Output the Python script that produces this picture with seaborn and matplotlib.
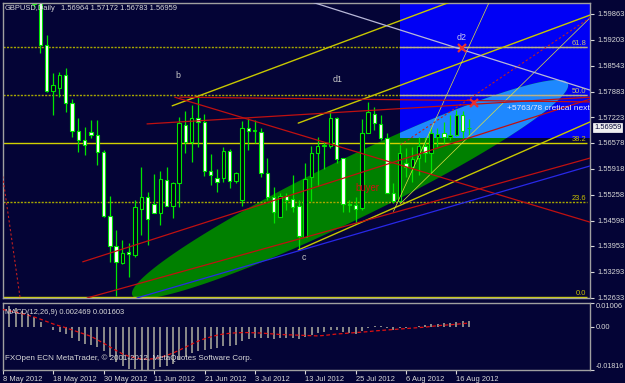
import numpy as np
import pandas as pd
import matplotlib
matplotlib.use("Agg")
import matplotlib.pyplot as plt
import seaborn as sns
from matplotlib.patches import Rectangle, Polygon

# ---------------- data ----------------
symbol = "GBPUSD,Daily"
dates = pd.bdate_range("2012-05-08", "2012-08-20")      # 75 daily bars
first_bar = 5                                           # earlier bars lie above the visible range

opens = [1.6045, 1.6028, 1.5907, 1.5790, 1.5797, 1.5830, 1.5759, 1.5688, 1.5665, 1.5685,
         1.5678, 1.5634, 1.5471, 1.5395, 1.5352, 1.5379, 1.5372, 1.5489, 1.5520, 1.5502,
         1.5479, 1.5563, 1.5497, 1.5556, 1.5703, 1.5660, 1.5721, 1.5711, 1.5586, 1.5568,
         1.5568, 1.5637, 1.5560, 1.5512, 1.5696, 1.5688, 1.5685, 1.5581, 1.5520, 1.5469,
         1.5522, 1.5515, 1.5497, 1.5418, 1.5571, 1.5632, 1.5650, 1.5650, 1.5721, 1.5619,
         1.5502, 1.5500, 1.5492, 1.5683, 1.5731, 1.5706, 1.5670, 1.5530, 1.5510, 1.5606,
         1.5596, 1.5619, 1.5650, 1.5632, 1.5673, 1.5683, 1.5673, 1.5678, 1.5729, 1.56964]
highs = [1.6062, 1.6040, 1.5932, 1.5836, 1.5838, 1.5848, 1.5769, 1.5721, 1.5698, 1.5716,
         1.5716, 1.5640, 1.5523, 1.5436, 1.5410, 1.5403, 1.5512, 1.5596, 1.5533, 1.5578,
         1.5586, 1.5596, 1.5558, 1.5724, 1.5739, 1.5754, 1.5774, 1.5731, 1.5629, 1.5591,
         1.5647, 1.5642, 1.5584, 1.5713, 1.5721, 1.5716, 1.5696, 1.5619, 1.5546, 1.5530,
         1.5530, 1.5576, 1.5512, 1.5606, 1.5650, 1.5673, 1.5660, 1.5736, 1.5724, 1.5619,
         1.5512, 1.5520, 1.5719, 1.5762, 1.5749, 1.5729, 1.5683, 1.5556, 1.5657, 1.5645,
         1.5647, 1.5673, 1.5673, 1.5698, 1.5696, 1.5711, 1.5729, 1.5741, 1.5739, 1.57172]
lows = [1.6004, 1.5886, 1.5788, 1.5729, 1.5774, 1.5736, 1.5673, 1.5634, 1.5627, 1.5670,
        1.5601, 1.5469, 1.5355, 1.5268, 1.5350, 1.5316, 1.5367, 1.5423, 1.5398, 1.5479,
        1.5449, 1.5497, 1.5467, 1.5494, 1.5632, 1.5609, 1.5647, 1.5573, 1.5551, 1.5533,
        1.5558, 1.5543, 1.5556, 1.5497, 1.5640, 1.5657, 1.5571, 1.5512, 1.5454, 1.5469,
        1.5487, 1.5482, 1.5388, 1.5418, 1.5510, 1.5548, 1.5592, 1.5645, 1.5606, 1.5482,
        1.5482, 1.5454, 1.5487, 1.5683, 1.5691, 1.5665, 1.5530, 1.5505, 1.5510, 1.5571,
        1.5558, 1.5576, 1.5609, 1.5581, 1.5647, 1.5657, 1.5665, 1.5675, 1.5670, 1.56783]
closes = [1.6011, 1.5907, 1.5790, 1.5805, 1.5830, 1.5759, 1.5688, 1.5665, 1.5652, 1.5678,
          1.5634, 1.5471, 1.5395, 1.5355, 1.5378, 1.5376, 1.5494, 1.5520, 1.5464, 1.5479,
          1.5566, 1.5497, 1.5556, 1.5708, 1.5660, 1.5721, 1.5711, 1.5586, 1.5576, 1.5558,
          1.5637, 1.5560, 1.5581, 1.5696, 1.5688, 1.5691, 1.5581, 1.5520, 1.5482, 1.5522,
          1.5512, 1.5494, 1.5420, 1.5566, 1.5632, 1.5650, 1.5653, 1.5721, 1.5617, 1.5502,
          1.5499, 1.5489, 1.5683, 1.5736, 1.5708, 1.5670, 1.5530, 1.5510, 1.5632, 1.5596,
          1.5617, 1.5650, 1.5632, 1.5683, 1.5681, 1.5673, 1.5678, 1.5729, 1.5688, 1.56959]

macd_main = [0.0100, 0.0088, 0.0078, 0.0068, 0.0055, 0.0042, 0.0020, 0.0000, -0.0012, -0.0020,
             -0.0032, -0.0048, -0.0060, -0.0070, -0.0076, -0.0085, -0.0103, -0.0125, -0.0150, -0.0165,
             -0.0176, -0.0178, -0.0180, -0.0182, -0.0178, -0.0168, -0.0163, -0.0155, -0.0138, -0.0128,
             -0.0112, -0.0102, -0.0098, -0.0094, -0.0090, -0.0082, -0.0080, -0.0075, -0.0060, -0.0050,
             -0.0045, -0.0045, -0.0047, -0.0050, -0.0048, -0.0046, -0.0045, -0.0050, -0.0042, -0.0033,
             -0.0026, -0.0021, -0.0012, -0.0014, -0.0022, -0.0027, -0.0030, -0.0017, -0.0004, 0.0003,
             0.0005, -0.0006, -0.0012, -0.0005, -0.0003, -0.0001, 0.0004, 0.0006, 0.0011, 0.0013,
             0.0015, 0.0017, 0.0022, 0.0024, 0.002469]
macd_signal = [0.0073, 0.0068, 0.0062, 0.0056, 0.0049, 0.0041, 0.0032, 0.0022, 0.0012, 0.0004,
               -0.0004, -0.0013, -0.0022, -0.0031, -0.0040, -0.0055, -0.0069, -0.0085, -0.0100, -0.0114,
               -0.0124, -0.0131, -0.0135, -0.0136, -0.0134, -0.0128, -0.0120, -0.0110, -0.0098, -0.0085,
               -0.0072, -0.0060, -0.0050, -0.0042, -0.0035, -0.0030, -0.0027, -0.0025, -0.0024, -0.0024,
               -0.0025, -0.0026, -0.0028, -0.0030, -0.0032, -0.0033, -0.0034, -0.0035, -0.0036, -0.0037,
               -0.0038, -0.0036, -0.0033, -0.0030, -0.0028, -0.0026, -0.0024, -0.0022, -0.0020, -0.0017,
               -0.0015, -0.0013, -0.0011, -0.0009, -0.0007, -0.0005, -0.0003, -0.0001, 0.0002, 0.0005,
               0.0007, 0.0009, 0.0011, 0.0014, 0.001603]

price_ticks = [1.59863, 1.59203, 1.58543, 1.57883, 1.57223, 1.56578, 1.55918,
               1.55258, 1.54598, 1.53953, 1.53293, 1.52633]
date_labels = ["8 May 2012", "18 May 2012", "30 May 2012", "11 Jun 2012", "21 Jun 2012",
               "3 Jul 2012", "13 Jul 2012", "25 Jul 2012", "6 Aug 2012", "16 Aug 2012"]
date_label_days = ["2012-05-08", "2012-05-18", "2012-05-30", "2012-06-11", "2012-06-21",
                   "2012-07-03", "2012-07-13", "2012-07-25", "2012-08-06", "2012-08-16"]
macd_range = (-0.01816, 0.01006)

fib_price_0, fib_price_100 = 1.5265, 1.6295
fib_levels = [0.0, 23.6, 38.2, 50.0, 61.8]

# drawing objects (bar index, price)
zone_box = [(63.0, 1.5670), (96.0, 1.6080)]
channel_ellipse = [(20.57, 1.5270), (89.68, 1.5809)]
ellipse_ratio = 0.125
yellow_lines = {"L1": [(26.9, 1.5752), (71.8, 1.6021)],
                "L2": [(46.9, 1.5708), (93.2, 1.5983)],
                "L3": [(46.9, 1.5385), (93.2, 1.5711)]}
thin_yellow = {"T1": [(62.0, 1.5483), (73.1, 1.5872)],
               "T2": [(63.1, 1.5503), (93.2, 1.5976)]}
red_lines = {"Ra": [(28.1, 1.5774), (93.2, 1.5762)],
             "Rb": [(27.3, 1.5774), (93.2, 1.5456)],
             "Rc": [(12.7, 1.5355), (93.2, 1.5769)],
             "Rd": [(13.4, 1.5263), (93.2, 1.5619)],
             "Rf": [(22.9, 1.5706), (93.2, 1.5774)]}
red_dotted = {"Re": [(-0.1, 1.5584), (2.75, 1.5265)],
              "Rg": [(63.1, 1.5652), (93.2, 1.5976)]}
white_line = [(49.1, 1.6016), (93.2, 1.5792)]
blue_line = [(21.3, 1.5263), (93.2, 1.5599)]
cross_marks = [(72.9, 1.5898), (74.8, 1.5758)]
labels = [("b", 27.8, 1.5830, "#c8c8c8"), ("d1", 53.1, 1.5818, "#c8c8c8"),
          ("d2", 72.9, 1.5925, "#c8c8f0"), ("c", 47.8, 1.5365, "#c8c8c8"),
          ("buyer", 55.9, 1.5543, "#d01010"), ("+5763/78 cretical next", 80.0, 1.5744, "#e8e8ff")]

# ---------------- style ----------------
sns.set_theme(style="dark")
plt.rcParams["font.family"] = ["Liberation Sans", "DejaVu Sans"]
BG = "#040436"
FG = "#d8d8d8"
LIME = "#00e600"
FS = 5.4
W, H = 625, 383

fig = plt.figure(figsize=(W / 100, H / 100), dpi=100, facecolor=BG)
ax = fig.add_axes([3 / W, 1 - 298 / H, 587 / W, 295 / H], facecolor=BG)
mx = fig.add_axes([3 / W, 1 - 370 / H, 587 / W, 67 / H], facecolor=BG)

xl = (0.05, 93.2)
ax.set_xlim(*xl)
ax.set_ylim(1.52629, 1.60137)
mx.set_xlim(*xl)
mx.set_ylim(*macd_range)

idx = np.arange(first_bar, first_bar + len(opens))

# background objects
(bx0, by0), (bx1, by1) = zone_box
rect = Rectangle((bx0, by0), bx1 - bx0, by1 - by0, facecolor="#0000f5", edgecolor="none", zorder=0.5)
ax.add_patch(rect)


def ellipse_poly(p1, p2, ratio, n=240):
    d1 = ax.transData.transform(p1)
    d2 = ax.transData.transform(p2)
    c = (d1 + d2) / 2
    v = (d2 - d1) / 2
    a = np.hypot(*v)
    u = v / a
    nrm = np.array([-u[1], u[0]])
    t = np.linspace(0, 2 * np.pi, n)
    pts = c + np.outer(a * np.cos(t), u) + np.outer(ratio * a * np.sin(t), nrm)
    return ax.transData.inverted().transform(pts)


ell = ellipse_poly(channel_ellipse[0], channel_ellipse[1], ellipse_ratio)
ax.add_patch(Polygon(ell, closed=True, facecolor="#008000", edgecolor="none", zorder=0.6))
inner = Polygon(ell, closed=True, facecolor="#1e88ff", edgecolor="none", zorder=0.7)
ax.add_patch(inner)
inner.set_clip_path(rect)

# fibonacci levels
for lv in fib_levels:
    pr = fib_price_0 + (fib_price_100 - fib_price_0) * lv / 100
    solid = lv in (38.2, 0.0)
    col = "#d2d200" if solid else "#a8a800"
    ax.hlines(pr, xl[0], 92.7, colors=col, lw=1.0, linestyles="-" if solid else (0, (1.5, 1)), zorder=1)
    seg = ax.hlines(pr, xl[0], 92.7, colors="#b8b090", lw=1.0, zorder=1.05)
    seg.set_clip_path(rect)
    ax.text(92.6, pr, f"{lv:.1f}", color="#c8c070" if lv >= 50 else "#c8c000", fontsize=FS,
            ha="right", va="bottom", zorder=4)

# candles
for i, o, h, l, c in zip(idx, opens, highs, lows, closes):
    ax.vlines(i, l, h, colors=LIME, lw=0.9, zorder=2)
    lo, hi = min(o, c), max(o, c)
    face = "#ffffff" if c < o else "#000018"
    ax.add_patch(Rectangle((i - 0.27, lo), 0.54, max(hi - lo, 0.00004), facecolor=face,
                           edgecolor=LIME, lw=0.8, zorder=2.1))


def ray(pts, x_end=96):
    (x0, y0), (x1, y1) = pts
    s = (y1 - y0) / (x1 - x0)
    return [x0, x_end], [y0, y0 + s * (x_end - x0)]


for k, pts in yellow_lines.items():
    xs, ys = ray(pts)
    sns.lineplot(x=xs, y=ys, ax=ax, color="#c8c800", lw=1.0, zorder=3)
for k, pts in thin_yellow.items():
    xs, ys = ray(pts)
    sns.lineplot(x=xs, y=ys, ax=ax, color="#e0e040", lw=0.5, zorder=3)
for k, pts in red_lines.items():
    xs, ys = ray(pts)
    sns.lineplot(x=xs, y=ys, ax=ax, color="#c01010", lw=0.9, zorder=3)
for k, pts in red_dotted.items():
    xs, ys = ray(pts) if k != "Re" else ([p[0] for p in pts], [p[1] for p in pts])
    sns.lineplot(x=xs, y=ys, ax=ax, color="#c02020", lw=0.8, linestyle=(0, (2, 2)), zorder=3)
xs, ys = ray(white_line)
sns.lineplot(x=xs, y=ys, ax=ax, color="#b8b8d8", lw=0.9, zorder=3)
xs, ys = ray(blue_line)
sns.lineplot(x=xs, y=ys, ax=ax, color="#2828e8", lw=0.9, zorder=3)
for (cx, cy) in cross_marks:
    ax.plot(cx, cy, marker="x", ms=6, mew=1.6, color="#e83030", zorder=4)
for txt, tx, ty, col in labels:
    ax.text(tx, ty, txt, color=col, fontsize=FS + (1.5 if txt == "buyer" else 1.0 if len(txt) <= 2 else 0.6),
            ha="left" if len(txt) > 2 else "center", va="center", zorder=4)

# price axis
ax.yaxis.tick_right()
ax.set_yticks(price_ticks)
ax.set_yticklabels([f"{p:.5f}" for p in price_ticks])
ax.tick_params(axis="y", colors=FG, labelcolor=FG, labelsize=FS, length=3, width=0.8, pad=2,
               direction="out", right=True, left=False)
ax.set_xticks([])
ax.grid(False)
last_close = closes[-1]
ax.annotate(f"{last_close:.5f}", xy=(1.0, last_close), xycoords=("axes fraction", "data"),
            xytext=(3, 0), textcoords="offset points", fontsize=FS, color=BG, va="center", ha="left",
            bbox=dict(boxstyle="square,pad=0.12", fc="#f0f0f0", ec="#ffffff", lw=0.5), zorder=6,
            annotation_clip=False)

# MACD panel
mx.vlines(np.arange(len(macd_main)), 0, macd_main, colors="#b0b0a0", lw=1.1, zorder=2)
sns.lineplot(x=np.arange(len(macd_signal)), y=macd_signal, ax=mx, color="#e01010", lw=0.9,
             linestyle=(0, (3, 2)), zorder=3)
mx.yaxis.tick_right()
mx.set_yticks([macd_range[1], 0.0, macd_range[0]])
mlabels = mx.set_yticklabels([f"{macd_range[1]:.5f}", "0.00", f"{macd_range[0]:.5f}"])
mlabels[0].set_va("top")
mlabels[2].set_va("bottom")
mlabels[2].set_fontsize(FS - 0.3)
mx.tick_params(axis="y", colors=FG, labelcolor=FG, labelsize=FS, length=3, width=0.8, pad=1,
               direction="out", right=True, left=False)
mlabels[2].set_fontsize(FS - 0.3)
tick_pos = [dates.get_loc(pd.Timestamp(d)) for d in date_label_days]
mx.set_xticks(tick_pos)
xt = mx.set_xticklabels(date_labels)
for t in xt:
    t.set_ha("left")
mx.tick_params(axis="x", colors=FG, labelcolor=FG, labelsize=FS, length=3, width=0.8, pad=1.5,
               direction="out", bottom=True)
mx.grid(False)
mx.set_xlabel("")
mx.set_ylabel("")
ax.set_xlabel("")
ax.set_ylabel("")

for a in (ax, mx):
    for s in a.spines.values():
        s.set_color("#a0a0a0")
        s.set_linewidth(1.0)

fig.text(5 / W, 1 - 8 / H, symbol, color=FG, fontsize=FS, va="center", ha="left")
fig.text(61 / W, 1 - 8 / H, f"{opens[-1]:.5f} {highs[-1]:.5f} {lows[-1]:.5f} {closes[-1]:.5f}",
         color=FG, fontsize=FS, va="center", ha="left")
fig.text(5 / W, 1 - 312 / H, f"MACD(12,26,9) {macd_main[-1]:.6f} {macd_signal[-1]:.6f}",
         color=FG, fontsize=FS, va="center", ha="left")
fig.text(5 / W, 1 - 358 / H, "FXOpen ECN MetaTrader, \u00a9 2001-2012, MetaQuotes Software Corp.",
         color=FG, fontsize=FS + 0.4, va="center", ha="left")

fig.savefig("out.png", dpi=100, facecolor=BG)
